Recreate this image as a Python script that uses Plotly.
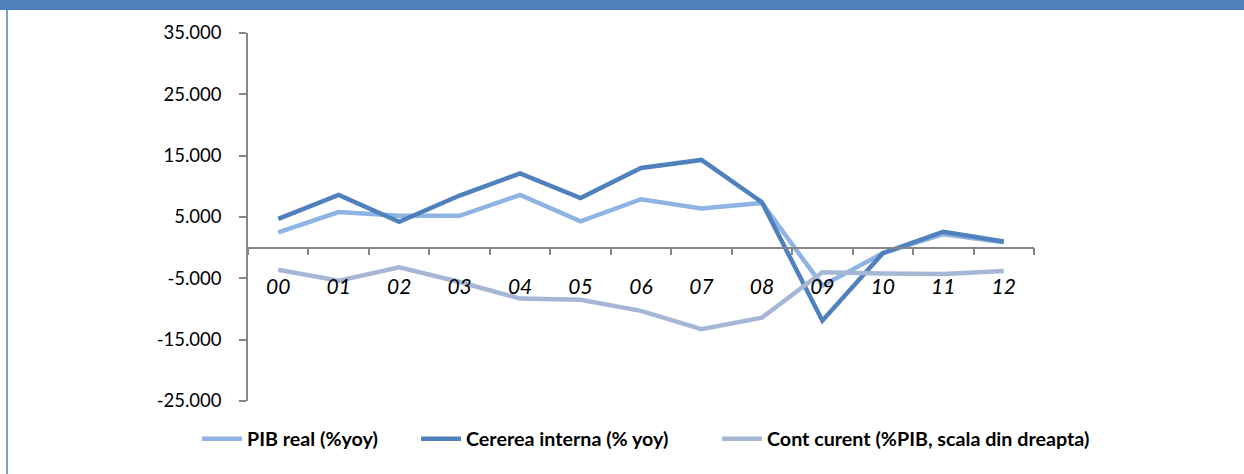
import plotly.graph_objects as go

# years 2000-2012, shown as two-digit labels
ani = ["00", "01", "02", "03", "04", "05", "06", "07", "08", "09", "10", "11", "12"]

pib_real = [2.5, 5.8, 5.2, 5.2, 8.6, 4.3, 7.9, 6.4, 7.3, -6.2, -0.9, 2.2, 0.9]
cererea_interna = [4.7, 8.6, 4.2, 8.5, 12.1, 8.1, 13.0, 14.3, 7.4, -11.9, -0.9, 2.6, 1.0]
cont_curent = [-3.6, -5.4, -3.2, -5.6, -8.3, -8.5, -10.3, -13.3, -11.4, -4.0, -4.2, -4.3, -3.8]

y_ticks = [-25, -15, -5, 5, 15, 25, 35]

FONT = "Lato"
W, H = 1244, 474
L, R, T, B = 248, 210, 33, 73
pw, ph = W - L - R, H - T - B


def px_x(p):
    return (p - L) / pw


def px_y(p):
    return 1 - (p - T) / ph


fig = go.Figure()

# one legend box per series so each entry sits where it does in the original
series = [
    ("PIB real (%yoy)", pib_real, "#8DB4E2", "legend2", 197),
    ("Cererea interna (% yoy)", cererea_interna, "#4F81BD", "legend3", 416),
    ("Cont curent (%PIB, scala din dreapta)", cont_curent, "#A6B7D6", "legend4", 717),
]
legend_fmt = {}
for name, vals, col, leg, lx in series:
    fig.add_trace(go.Scatter(
        x=ani, y=vals, mode="lines", name=name, legend=leg,
        line=dict(color=col, width=4.5),
    ))
    legend_fmt[leg] = dict(
        orientation="h", x=px_x(lx), xanchor="left",
        y=px_y(439), yanchor="middle",
        font=dict(family=FONT, size=19.7, color="black", weight="bold"),
        itemwidth=40, bgcolor="rgba(0,0,0,0)",
    )

# top bar and left border of the frame
fig.add_shape(type="rect", xref="paper", yref="paper",
              x0=px_x(0), x1=px_x(W), y0=px_y(10), y1=px_y(0),
              fillcolor="#4F81BD", line_width=0, layer="below")
fig.add_shape(type="line", xref="paper", yref="paper",
              x0=px_x(7), x1=px_x(7), y0=px_y(H), y1=px_y(10),
              line=dict(color="#4F81BD", width=1.5))

fig.update_xaxes(
    type="category", range=[-0.5, 12.5],
    anchor="free", position=25 / 60,
    showline=True, linecolor="#868686", linewidth=1.5,
    ticks="outside", tickson="boundaries", ticklen=7, tickcolor="#868686", tickwidth=1.5,
    ticklabelstandoff=20,
    tickfont=dict(family=FONT, size=21, color="black", style="italic"),
    showgrid=False, zeroline=False,
)
fig.update_yaxes(
    range=[-25, 35], tickvals=y_ticks, ticktext=[f"{v:.3f}" for v in y_ticks],
    showline=True, linecolor="#868686", linewidth=1.5,
    ticks="outside", ticklen=7, tickcolor="#868686", tickwidth=1.5,
    ticklabelstandoff=14,
    tickfont=dict(family=FONT, size=18.5, color="black"),
    showgrid=False, zeroline=False,
)

fig.update_layout(
    width=W, height=H,
    margin=dict(l=L, r=R, t=T, b=B, pad=0),
    paper_bgcolor="white", plot_bgcolor="white",
    font=dict(family=FONT, color="black"),
    showlegend=True,
    **legend_fmt,
)

fig.write_html("out.html", config={"displayModeBar": False},
               post_script="document.body.style.margin='0';")
